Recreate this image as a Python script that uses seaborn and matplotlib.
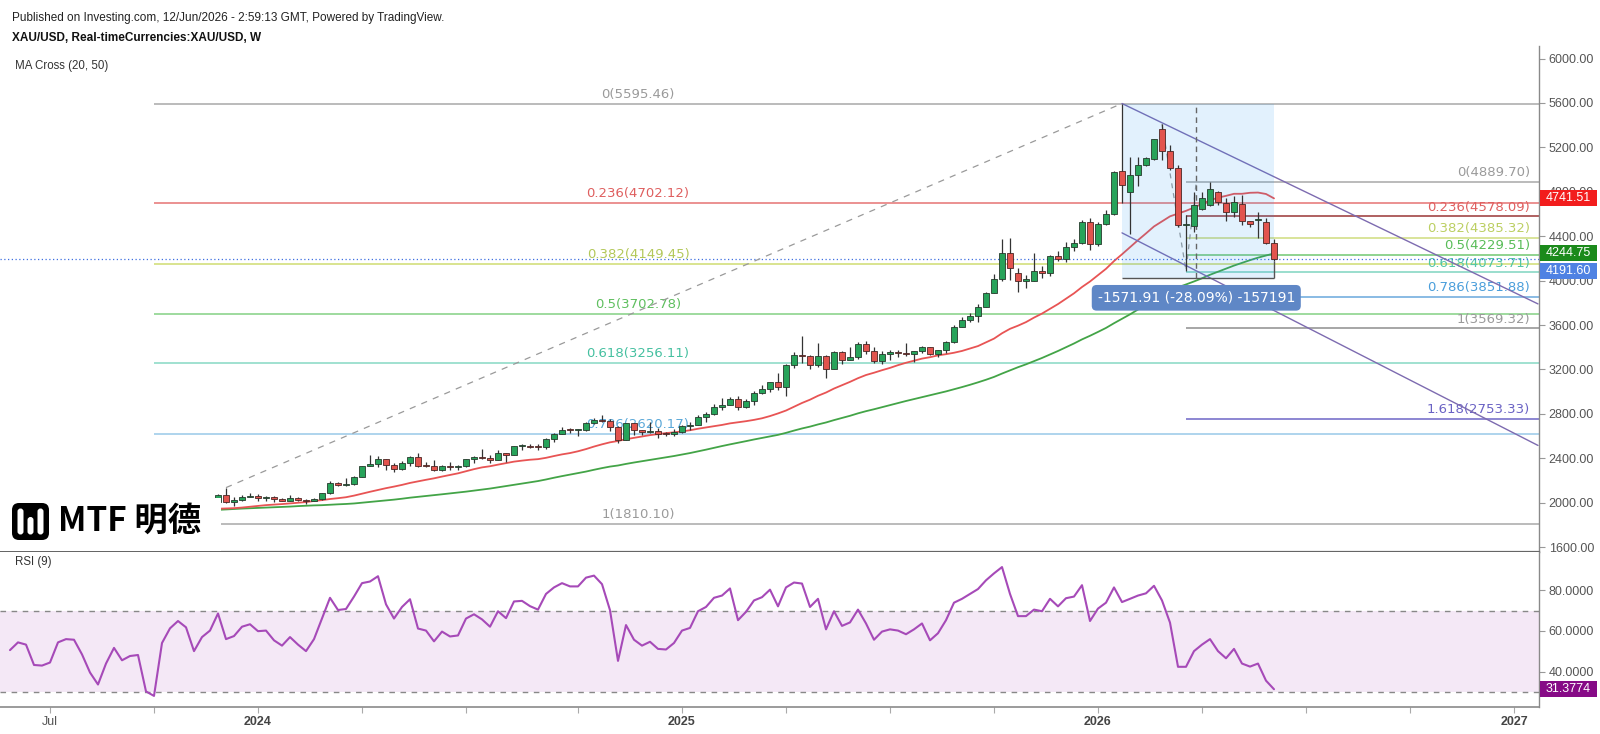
import numpy as np
import pandas as pd
import matplotlib
matplotlib.use("Agg")
import matplotlib.pyplot as plt
import matplotlib.dates as mdates
from matplotlib.patches import Rectangle, FancyBboxPatch
import seaborn as sns

# ---------------- data (weekly XAU/USD) ----------------
first_week = "2023-11-27"
opens = [2002, 2072, 2004, 2019, 2053, 2063, 2045, 2049, 2029, 2018, 2039, 2024, 2013, 2035, 2083, 2179, 2156, 2165, 2230, 2330,
         2344, 2391, 2337, 2302, 2360, 2415, 2333, 2327, 2293, 2333, 2322, 2326, 2391, 2411, 2400, 2387, 2443, 2431, 2507, 2512,
         2503, 2497, 2577, 2622, 2658, 2653, 2656, 2721, 2747, 2736, 2685, 2563, 2715, 2650, 2633, 2648, 2622, 2621, 2640, 2690,
         2702, 2770, 2798, 2861, 2883, 2936, 2858, 2911, 2984, 3023, 3085, 3037, 3237, 3327, 3319, 3240, 3325, 3205, 3357, 3289,
         3310, 3433, 3368, 3274, 3337, 3355, 3350, 3337, 3363, 3398, 3336, 3371, 3448, 3586, 3643, 3685, 3760, 3886, 4018, 4251,
         4068, 4000, 4000, 4085, 4065, 4218, 4198, 4300, 4338, 4532, 4330, 4510, 4596, 4985, 4800, 4952, 5041, 5095, 5365, 5172,
         5012, 4497, 4493, 4648, 4678, 4795, 4695, 4615, 4690, 4535, 4550, 4527, 4336]
highs = [2075, 2135, 2047, 2070, 2088, 2078, 2062, 2062, 2041, 2065, 2051, 2032, 2041, 2088, 2195, 2185, 2222, 2236, 2331, 2431,
         2418, 2392, 2353, 2378, 2422, 2450, 2364, 2388, 2342, 2368, 2339, 2392, 2424, 2483, 2433, 2477, 2449, 2509, 2531, 2528,
         2529, 2586, 2625, 2685, 2670, 2663, 2722, 2758, 2790, 2750, 2690, 2721, 2721, 2657, 2726, 2669, 2639, 2665, 2698, 2726,
         2786, 2817, 2886, 2942, 2955, 2956, 2930, 3005, 3057, 3086, 3168, 3245, 3358, 3500, 3327, 3435, 3330, 3366, 3365, 3403,
         3446, 3452, 3398, 3365, 3375, 3375, 3439, 3363, 3409, 3404, 3379, 3453, 3600, 3674, 3707, 3791, 3897, 4059, 4378, 4381,
         4112, 4053, 4245, 4132, 4230, 4264, 4352, 4375, 4550, 4560, 4530, 4640, 4990, 5595.46, 5110, 5115, 5110, 5280, 5410, 5220,
         5040, 4590, 4800, 4800, 4889.70, 4810, 4740, 4765, 4770, 4540, 4615, 4560, 4372]
lows = [1993, 1993, 1973, 2016, 2053, 2016, 2013, 2001, 2010, 2016, 2016, 1984, 2010, 2024, 2076, 2146, 2146, 2163, 2228, 2326,
        2324, 2291, 2277, 2291, 2334, 2325, 2324, 2287, 2286, 2295, 2293, 2318, 2353, 2393, 2353, 2381, 2364, 2430, 2471, 2491,
        2472, 2485, 2546, 2614, 2625, 2603, 2642, 2704, 2722, 2643, 2536, 2560, 2605, 2613, 2631, 2583, 2603, 2596, 2624, 2656,
        2695, 2730, 2790, 2832, 2882, 2832, 2856, 2880, 2982, 3000, 3015, 2957, 3210, 3260, 3202, 3225, 3121, 3204, 3245, 3287,
        3294, 3340, 3255, 3247, 3282, 3309, 3325, 3268, 3352, 3331, 3311, 3351, 3436, 3584, 3628, 3628, 3759, 3886, 4000, 4004,
        3898, 3935, 3995, 4022, 4040, 4180, 4170, 4270, 4330, 4275, 4310, 4500, 4590, 4700, 4416, 4850, 5030, 5090, 5090, 4995,
        4485, 4090, 4435, 4640, 4670, 4680, 4540, 4575, 4505, 4480, 4380, 4330, 4180]
closes = [2072, 2004, 2019, 2053, 2063, 2045, 2049, 2029, 2018, 2039, 2024, 2013, 2035, 2083, 2179, 2156, 2165, 2230, 2330, 2344,
          2391, 2337, 2302, 2360, 2415, 2333, 2327, 2293, 2333, 2322, 2326, 2391, 2411, 2400, 2387, 2443, 2431, 2507, 2512, 2503,
          2497, 2577, 2622, 2658, 2653, 2656, 2721, 2747, 2736, 2685, 2563, 2715, 2650, 2633, 2648, 2622, 2621, 2640, 2690, 2702,
          2770, 2798, 2861, 2883, 2936, 2858, 2911, 2984, 3023, 3085, 3037, 3237, 3327, 3319, 3240, 3325, 3205, 3357, 3289, 3310,
          3433, 3368, 3274, 3337, 3355, 3350, 3337, 3363, 3398, 3336, 3371, 3448, 3586, 3643, 3685, 3760, 3886, 4018, 4251, 4113,
          4000, 4010, 4085, 4065, 4218, 4198, 4300, 4338, 4532, 4330, 4510, 4596, 4980, 4865, 4952, 5041, 5101, 5273, 5172, 5012,
          4497, 4505, 4680, 4740, 4825, 4705, 4615, 4710, 4535, 4508, 4552, 4338, 4191.60]
# weekly closes Dec 2022 - Nov 2023 (hidden behind the logo), used only to warm up the moving averages
ma_warmup_closes = [1793, 1798, 1824, 1865, 1920, 1926, 1928, 1865, 1865, 1842, 1811, 1856, 1868, 1989, 1978, 1969, 2007,
                    2004, 1983, 1990, 2017, 2011, 1978, 1946, 1948, 1961, 1958, 1921, 1919, 1925, 1955, 1962, 1959, 1943,
                    1914, 1889, 1915, 1940, 1919, 1924, 1925, 1866, 1833, 1932, 1981, 2006, 1993, 1940, 1981, 2002]
ma_fast, ma_slow = 20, 50

rsi_values = [50.6, 54.4, 53.3, 43.3, 43.0, 44.5, 54.4, 56.0, 55.7, 48.5,
              39.6, 33.7, 44.0, 51.7, 45.6, 47.7, 48.2, 30.3, 28.1, 54.1,
              61.3, 64.9, 61.8, 50.1, 57.0, 60.2, 68.6, 56.0, 57.5, 62.1,
              63.3, 59.9, 60.2, 55.4, 52.8, 57.0, 53.3, 50.1, 56.0, 66.1,
              76.3, 70.3, 70.8, 76.9, 83.5, 84.3, 86.9, 73.1, 66.1, 71.8,
              75.6, 61.2, 60.2, 54.9, 59.7, 57.3, 57.8, 66.1, 68.2, 65.7,
              62.1, 69.7, 66.3, 74.5, 74.8, 72.2, 70.5, 78.2, 81.4, 83.5,
              81.9, 81.9, 86.2, 87.2, 83.0, 70.2, 45.3, 62.9, 55.7, 52.8,
              54.7, 51.2, 50.9, 54.1, 60.2, 61.5, 69.7, 71.8, 76.3, 77.4,
              80.9, 65.3, 69.4, 75.0, 76.6, 80.3, 72.1, 81.4, 83.8, 83.3,
              71.8, 75.8, 60.8, 69.7, 62.5, 64.2, 70.5, 63.7, 55.7, 59.7,
              60.8, 60.2, 58.4, 60.8, 63.7, 55.4, 58.9, 65.3, 73.9, 75.8,
              78.2, 80.6, 84.9, 88.3, 91.4, 78.2, 67.3, 67.3, 70.5, 69.7,
              75.8, 72.1, 76.1, 76.9, 82.5, 64.9, 71.0, 73.9, 81.4, 74.2,
              75.8, 77.4, 78.5, 82.2, 75.0, 64.1, 42.4, 42.4, 50.1, 53.3,
              56.0, 50.1, 46.6, 51.2, 44.0, 42.5, 44.0, 35.6, 31.3774]

# Fibonacci retracement 1810.10 -> 5595.46
fib_left_ratios = ["0", "0.236", "0.382", "0.5", "0.618", "0.786", "1"]
fib_left_values = [5595.46, 4702.12, 4149.45, 3702.78, 3256.11, 2620.17, 1810.10]
fib_left_start, fib_left_end = "2023-10-02", "2026-01-26"
# trend-based Fibonacci extension
fib_right_ratios = ["0", "0.236", "0.382", "0.5", "0.618", "0.786", "1", "1.618"]
fib_right_values = [4889.70, 4578.09, 4385.32, 4229.51, 4073.71, 3851.88, 3569.32, 2753.33]
fib_ext_dates = ["2026-03-02", "2026-03-23", "2026-04-01"]
fib_ext_prices = [5410, 4090, 4889.70]
# price range box
range_dates = ["2026-01-26", "2026-06-08"]
range_prices = [5595.46, 4023.55]
range_text = "-1571.91 (-28.09%) -157191"
# dashed trend line and parallel channel
trend_dates = ["2023-12-04", "2026-01-26"]
trend_prices = [2135, 5595.46]
channel_dates = ["2026-01-26", "2027-01-25"]
channel_upper = [5595.46, 3790]
channel_lower = [4430, 2515]
last_price = 4191.60
ma20_last, ma50_last = 4741.51, 4244.75
rsi_last = 31.3774
last_price_tag_y = 4088   # tag pushed down so it does not cover the MA50 tag

tick_dates = ["2023-07-03", "2023-10-02", "2024-01-01", "2024-04-01", "2024-07-01", "2024-10-07", "2025-01-06",
              "2025-04-07", "2025-07-07", "2025-10-06", "2026-01-05", "2026-04-06", "2026-07-06", "2026-10-05", "2027-01-04"]
tick_labels = ["Jul", "", "2024", "", "", "", "2025", "", "", "", "2026", "", "", "", "2027"]
price_ticks = list(range(1600, 6001, 400))
rsi_ticks = [40, 60, 80]

# ---------------- figure ----------------
sns.set_theme(style="white")
plt.rcParams["font.family"] = ["Liberation Sans", "DejaVu Sans"]

W, H = 1600, 734
fig = plt.figure(figsize=(16, 7.34), dpi=100)
fig.patch.set_facecolor("white")

AX_R = 1539          # pixel x of price axis
MAIN_T, MAIN_B = 46, 552
RSI_B = 706.7
ax = fig.add_axes([0, 1 - MAIN_B / H, AX_R / W, (MAIN_B - MAIN_T) / H])
rax = fig.add_axes([0, 1 - RSI_B / H, AX_R / W, (RSI_B - MAIN_B) / H])

base = mdates.date2num(pd.Timestamp(first_week))
xlim = (base - 27.25 * 7, base + 165.125 * 7)
for a in (ax, rax):
    a.set_xlim(*xlim)
    a.set_facecolor("white")
ax.set_ylim(1555, 6113.5)
rax.set_ylim(22.8, 98.8)

dates = pd.date_range(first_week, periods=len(closes), freq="7D")
xd = mdates.date2num(dates)
o = np.array(opens, float); h = np.array(highs, float)
l = np.array(lows, float); c = np.array(closes, float)

def dn(s):
    return mdates.date2num(pd.Timestamp(s))

# fib left
fl_s, fl_e = dn(fib_left_start), dn(fib_left_end)
left_line_cols = ["#a8a8a8", "#e57373", "#d0dd72", "#84d184", "#86d9c4", "#99c9e8", "#a8a8a8"]
left_text_cols = ["#9a9a9a", "#df5f5f", "#b3c85a", "#5fbf5f", "#45c0a0", "#5aa8d8", "#9a9a9a"]
for r, v, lc, tc in zip(fib_left_ratios, fib_left_values, left_line_cols, left_text_cols):
    ax.hlines(v, fl_s, xlim[1], colors=lc, lw=1.1, zorder=1)
    ax.text((fl_s + fl_e) / 2, v + 25, f"{r}({v:.2f})", ha="center", va="bottom", color=tc,
            fontsize=9.5, family="DejaVu Sans", zorder=1.5)

# fib right
fr_s = dn(fib_ext_dates[1])
right_line_cols = ["#a8a8a8", "#9a3535", "#cfdd7f", "#72c872", "#7fd5c0", "#6aa8dc", "#8e8e8e", "#6d66c6"]
right_text_cols = ["#9a9a9a", "#df6060", "#bccf62", "#58bc58", "#52c6a6", "#4a9edb", "#9a9a9a", "#6a62c4"]
ytr = ax.get_yaxis_transform()
for r, v, lc, tc in zip(fib_right_ratios, fib_right_values, right_line_cols, right_text_cols):
    ax.hlines(v, fr_s, xlim[1], colors=lc, lw=1.1, zorder=1)
    ax.text(1530 / AX_R, v + 25, f"{r}({v:.2f})", transform=ytr, ha="right", va="bottom", color=tc,
            fontsize=9.5, family="DejaVu Sans", zorder=1.5)

# moving averages
all_closes = pd.Series(ma_warmup_closes + closes, dtype=float)
ma20 = all_closes.rolling(ma_fast).mean().iloc[len(ma_warmup_closes):].to_numpy()
ma50 = all_closes.rolling(ma_slow).mean().iloc[len(ma_warmup_closes):].to_numpy()
sns.lineplot(x=xd, y=ma50, ax=ax, color="#43a447", lw=1.3, estimator=None, sort=False, zorder=2)
sns.lineplot(x=xd, y=ma20, ax=ax, color="#e85454", lw=1.3, estimator=None, sort=False, zorder=2)

# current price dotted line
ax.axhline(last_price, color="#3d6fe0", lw=0.9, ls=(0, (1, 2)), zorder=2)

# trend dashed & channel
ax.plot([dn(d) for d in trend_dates], trend_prices, color="#9a9a9a", lw=0.9, ls=(0, (5, 5)), zorder=2)
ax.plot([dn(d) for d in fib_ext_dates], fib_ext_prices, color="#9a9a9a", lw=0.9, ls=(0, (4, 4)), zorder=2)
cx = [dn(d) for d in channel_dates]
ax.plot(cx, channel_upper, color="#7d6bb0", lw=1.0, zorder=2)
ax.plot(cx, channel_lower, color="#7d6bb0", lw=1.0, zorder=2)

# price range box
rx0, rx1 = dn(range_dates[0]), dn(range_dates[1])
ax.add_patch(Rectangle((rx0, range_prices[1]), rx1 - rx0, range_prices[0] - range_prices[1],
                       facecolor="#2196f3", alpha=0.13, lw=0, zorder=2.5))
ax.hlines(range_prices[1], rx0, rx1, colors="#555555", lw=1.0, zorder=3)
ax.vlines(rx1, range_prices[1], l[-1], colors="#555555", lw=1.0, zorder=3)
xc = dn(fib_ext_dates[2])
ax.vlines(xc, range_prices[1], range_prices[0], colors="#666666", lw=1.0, linestyles=(0, (4, 3)), zorder=3)
ax.text(xc, 3845, range_text, ha="center", va="center", color="white", fontsize=10, family="DejaVu Sans",
        bbox=dict(boxstyle="round,pad=0.42,rounding_size=0.35", fc="#5f87c6", ec="none"), zorder=6)

# candles
up = c >= o
ax.vlines(xd, l, h, colors="#333333", lw=0.9, zorder=3)
body_lo = np.minimum(o, c)
body_h = np.maximum(np.abs(c - o), 9)
ax.bar(xd[up], body_h[up], bottom=body_lo[up], width=4.4, color="#27a35a", edgecolor="#263a2c", linewidth=0.6, zorder=4)
ax.bar(xd[~up], body_h[~up], bottom=body_lo[~up], width=4.4, color="#e2544e", edgecolor="#4a2624", linewidth=0.6, zorder=4)

# RSI
rsi_dates = pd.date_range(end=dates[-1], periods=len(rsi_values), freq="7D")
rax.axhspan(30, 70, color="#9c27b0", alpha=0.1, lw=0, zorder=0)
rax.axhline(70, color="#888888", lw=1.0, ls=(0, (4, 4)), zorder=1)
rax.axhline(30, color="#888888", lw=1.0, ls=(0, (4, 4)), zorder=1)
sns.lineplot(x=mdates.date2num(rsi_dates), y=rsi_values, ax=rax, color="#a64ab8", lw=1.5,
             estimator=None, sort=False, zorder=3)

# axes styling
for a in (ax, rax):
    a.spines["left"].set_visible(False)
    a.spines["top"].set_visible(False)
    a.spines["right"].set_color("#8a8a8a")
    a.spines["right"].set_linewidth(1.0)
    a.yaxis.tick_right()
    a.tick_params(axis="y", direction="out", length=4, width=0.8, color="#999999", pad=3,
                  labelsize=9, labelcolor="#555555", right=True, left=False)
    a.grid(False)
    a.set_xlabel(""); a.set_ylabel("")
ax.spines["bottom"].set_color("#666666")
ax.spines["bottom"].set_linewidth(1.6)
rax.spines["bottom"].set_color("#8a8a8a")
rax.spines["bottom"].set_linewidth(1.2)

ax.set_yticks(price_ticks)
ax.set_yticklabels([f"{v:.2f}" for v in price_ticks])
ax.set_xticks([])
rax.set_yticks(rsi_ticks)
rax.set_yticklabels([f"{v:.4f}" for v in rsi_ticks])
rax.set_xticks([dn(d) for d in tick_dates])
rax.set_xticklabels(tick_labels)
rax.tick_params(axis="x", direction="out", length=4, width=0.8, color="#aaaaaa", pad=3,
                labelsize=9, labelcolor="#444444", bottom=True)
for t in rax.get_xticklabels():
    if t.get_text() != "Jul":
        t.set_fontweight("bold")
    else:
        t.set_color("#555555")

# value tags on price axis
def tag(a, y, text, color, hgt):
    tr = a.get_yaxis_transform()
    a.add_patch(Rectangle((1.0006, y - hgt / 2), 57 / AX_R, hgt, transform=tr, facecolor=color,
                          edgecolor="none", clip_on=False, zorder=10))
    a.text(1.0006 + 28.5 / AX_R, y, text, transform=tr, ha="center", va="center", color="white",
           fontsize=9, clip_on=False, zorder=11)

ppx = (MAIN_B - MAIN_T) / (6113.5 - 1555)
tag(ax, ma20_last, f"{ma20_last:.2f}", "#f21d1d", 16 / ppx)
tag(ax, ma50_last, f"{ma50_last:.2f}", "#1b8a1b", 16 / ppx)
tag(ax, last_price_tag_y, f"{last_price:.2f}", "#4f82e3", 16 / ppx)
rpx = (RSI_B - MAIN_B) / (98.8 - 22.8)
tag(rax, rsi_last, f"{rsi_last:.4f}", "#860a86", 16 / rpx)

# header texts
fig.text(12 / W, 1 - 17.5 / H, "Published on Investing.com, 12/Jun/2026 - 2:59:13 GMT, Powered by TradingView.",
         fontsize=8.5, color="#222222", va="center", ha="left")
fig.text(12 / W, 1 - 38 / H, "XAU/USD, Real-timeCurrencies:XAU/USD, W", fontsize=8.5, fontweight="bold",
         color="#111111", va="center", ha="left")
fig.text(15 / W, 1 - 65.5 / H, "MA Cross (20, 50)", fontsize=8.3, color="#333333", va="center", ha="left")
fig.text(15 / W, 1 - 562 / H, "RSI (9)", fontsize=8.3, color="#333333", va="center", ha="left")

# logo block
LX0, LX1, LY0, LY1 = 0, 221, 498, 551
lax = fig.add_axes([LX0 / W, 1 - LY1 / H, (LX1 - LX0) / W, (LY1 - LY0) / H], zorder=5)
lax.set_xlim(LX0, LX1); lax.set_ylim(LY1, LY0)
lax.set_facecolor("white")
lax.set_xticks([]); lax.set_yticks([])
for s in lax.spines.values():
    s.set_visible(False)
lax.add_patch(FancyBboxPatch((12, 503), 37, 37, boxstyle="round,pad=0,rounding_size=7", fc="black", ec="none"))
for bx, by0, by1 in [(17.5, 508.5, 534.5), (27.5, 517, 534.5), (37.5, 508.5, 534.5)]:
    lax.add_patch(FancyBboxPatch((bx, by0), 6, by1 - by0, boxstyle="round,pad=0,rounding_size=3", fc="white", ec="none"))
lax.text(58, 521, "MTF 明德", fontsize=24, fontweight="bold", color="black", va="center", ha="left",
         family=["Noto Sans CJK SC", "DejaVu Sans"])

fig.savefig("out.png", dpi=100, facecolor="white")
